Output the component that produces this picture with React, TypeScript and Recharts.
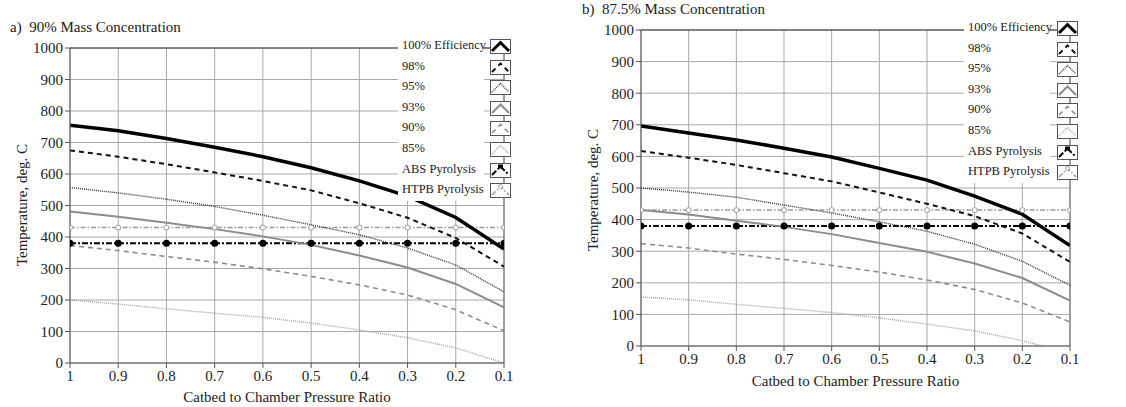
import React from 'react';
import { LineChart, Line, XAxis, YAxis, CartesianGrid, ReferenceLine } from 'recharts';

const ratios = [1, 0.9, 0.8, 0.7, 0.6, 0.5, 0.4, 0.3, 0.2, 0.1];
const tempTicks = [0, 100, 200, 300, 400, 500, 600, 700, 800, 900, 1000];

// a) 90% mass concentration
const a100 = [755, 737, 713, 685, 655, 620, 578, 530, 462, 362];
const a98 = [675, 655, 631, 605, 578, 548, 507, 461, 397, 306];
const a95 = [557, 540, 520, 497, 469, 439, 407, 365, 311, 226];
const a93 = [481, 464, 445, 425, 402, 375, 341, 303, 251, 177];
const a90 = [373, 357, 338, 320, 299, 275, 248, 216, 169, 102];
const a85 = [200, 187, 172, 158, 145, 127, 105, 80, 48, 0];
const aAbs = [380, 380, 380, 380, 380, 380, 380, 380, 380, 380];
const aHtpb = [430, 430, 430, 430, 430, 430, 430, 430, 430, 430];

// b) 87.5% mass concentration
const b100 = [696, 674, 652, 626, 598, 562, 525, 474, 417, 318];
const b98 = [617, 596, 573, 547, 521, 486, 450, 411, 356, 266];
const b95 = [500, 487, 471, 446, 421, 393, 363, 322, 268, 192];
const b93 = [430, 416, 396, 377, 354, 326, 298, 261, 215, 144];
const b90 = [324, 310, 291, 274, 255, 234, 209, 179, 136, 76];
const b85 = [155, 146, 132, 119, 106, 89, 69, 48, 17, -24];
const bAbs = [380, 380, 380, 380, 380, 380, 380, 380, 380, 380];
const bHtpb = [430, 430, 430, 430, 430, 430, 430, 430, 430, 430];

const seriesNames = ['100% Efficiency', '98%', '95%', '93%', '90%', '85%', 'ABS Pyrolysis', 'HTPB Pyrolysis'];
const seriesKeys = ['e100', 'e98', 'e95', 'e93', 'e90', 'e85', 'abs', 'htpb'];

const styles: any = {
  e100: { stroke: '#000', width: 3.5, dash: undefined },
  e98: { stroke: '#111', width: 2, dash: '5 4' },
  e95: { stroke: '#333', width: 1.4, dash: '1 1' },
  e93: { stroke: '#8c8c8c', width: 2, dash: undefined },
  e90: { stroke: '#8c8c8c', width: 1.6, dash: '5 4' },
  e85: { stroke: '#aaa', width: 1.5, dash: '1 1' },
  abs: { stroke: '#000', width: 2, dash: '6 2 2 2' },
  htpb: { stroke: '#9a9a9a', width: 1.5, dash: '5 2 1.5 2' },
};

const buildRows = (cols: number[][]) =>
  ratios.map((x, i) => {
    const row: any = { x };
    seriesKeys.forEach((k, j) => (row[k] = cols[j][i]));
    return row;
  });

const dataA = buildRows([a100, a98, a95, a93, a90, a85, aAbs, aHtpb]);
const dataB = buildRows([b100, b98, b95, b93, b90, b85, bAbs, bHtpb]);

const FONT = '"Liberation Serif", "DejaVu Serif", serif';
const tickStyle = { fontSize: 15, fill: '#222', fontFamily: FONT };

const Swatch = ({ k }: { k: string }) => {
  const s = styles[k];
  return (
    <svg width={21} height={15} style={{ display: 'block' }}>
      <rect x={0.5} y={0.5} width={20} height={14} fill="#fff" stroke="#555" />
      <polyline points="2,12 10.5,3.5 19,12" fill="none" stroke={s.stroke}
        strokeWidth={Math.min(s.width, 3)} strokeDasharray={s.dash} />
      {k === 'abs' && <rect x={8} y={1.5} width={5} height={4} fill="#000" />}
      {k === 'htpb' && <circle cx={10.5} cy={3.5} r={2} fill="#fff" stroke="#9a9a9a" />}
    </svg>
  );
};

const LegendBlock = ({ labelX, boxX, top, panelW }: any) => (
  <>
    <div style={{ position: 'absolute', left: labelX - 4, top: top - 9, width: panelW, height: 164, background: '#fff' }} />
    {seriesNames.map((name, i) => (
      <React.Fragment key={name}>
        <div style={{
          position: 'absolute', left: labelX, top: top + i * 20.6 - 9, fontFamily: FONT, fontSize: 12.5,
          color: '#222', lineHeight: '16px', whiteSpace: 'nowrap',
        }}>{name}</div>
        <div style={{ position: 'absolute', left: boxX, top: top + i * 20.6 - 7 }}>
          <Swatch k={seriesKeys[i]} />
        </div>
      </React.Fragment>
    ))}
  </>
);

const Panel = ({ data, left, width, margin, xAxisHeight, title, titleTop, titleLeft, yLabelLeft, yLabelTop, xLabelTop, legend }: any) => (
  <div style={{ position: 'absolute', left, top: 0, width, height: 407 }}>
    <LineChart width={width} height={407} data={data} margin={margin}>
      <CartesianGrid stroke="#a8a8a8" strokeWidth={1} />
      <XAxis dataKey="x" type="number" domain={[0.1, 1]} reversed ticks={ratios}
        tick={tickStyle} tickSize={5} tickMargin={2} height={xAxisHeight}
        axisLine={{ stroke: '#555' }} tickLine={{ stroke: '#555' }} allowDataOverflow />
      <YAxis type="number" domain={[0, 1000]} ticks={tempTicks} tick={tickStyle} width={50}
        tickSize={5} tickMargin={2} axisLine={{ stroke: '#555' }} tickLine={{ stroke: '#555' }}
        allowDataOverflow />
      <ReferenceLine y={1000} stroke="#333" />
      <ReferenceLine x={0.1} stroke="#666" />
      {seriesKeys.slice().reverse().map((k) => {
        const s = styles[k];
        const dot = k === 'abs'
          ? { r: 3.5, fill: '#000', stroke: '#000', strokeWidth: 0, strokeDasharray: '' }
          : k === 'htpb'
            ? { r: 2.5, fill: '#fff', stroke: '#9a9a9a', strokeWidth: 1, strokeDasharray: '' }
            : false;
        return (
          <Line key={k} dataKey={k} type="linear" stroke={s.stroke} strokeWidth={s.width}
            strokeDasharray={s.dash} dot={dot} activeDot={false} isAnimationActive={false} />
        );
      })}
    </LineChart>
    <div style={{ position: 'absolute', left: titleLeft, top: titleTop, fontFamily: FONT, fontSize: 15, color: '#222', whiteSpace: 'pre' }}>
      {title}
    </div>
    <div style={{
      position: 'absolute', left: yLabelLeft, top: yLabelTop, fontFamily: FONT, fontSize: 15, color: '#222',
      whiteSpace: 'nowrap', transform: 'translate(-50%, -50%) rotate(-90deg)',
    }}>Temperature, deg. C</div>
    <div style={{
      position: 'absolute', left: margin.left + 50, width: width - margin.left - 50 - margin.right, top: xLabelTop,
      textAlign: 'center', fontFamily: FONT, fontSize: 15, color: '#222', whiteSpace: 'nowrap',
    }}>Catbed to Chamber Pressure Ratio</div>
    <LegendBlock {...legend} />
  </div>
);

export default function App() {
  return (
    <div style={{ position: 'absolute', left: 0, top: 0, width: 1126, height: 407, background: '#fff', overflow: 'hidden' }}>
      <Panel data={dataA} left={0} width={560} margin={{ top: 48, right: 56, left: 20, bottom: 0 }}
        xAxisHeight={44} title="a)  90% Mass Concentration" titleLeft={10} titleTop={19}
        yLabelLeft={22} yLabelTop={205} xLabelTop={389}
        legend={{ labelX: 402, boxX: 490, top: 46, panelW: 86 }} />
      <Panel data={dataB} left={560} width={566} margin={{ top: 30, right: 56, left: 31, bottom: 0 }}
        xAxisHeight={61} title="b)  87.5% Mass Concentration" titleLeft={22} titleTop={1}
        yLabelLeft={33} yLabelTop={190} xLabelTop={373}
        legend={{ labelX: 408, boxX: 497, top: 28, panelW: 86 }} />
    </div>
  );
}
